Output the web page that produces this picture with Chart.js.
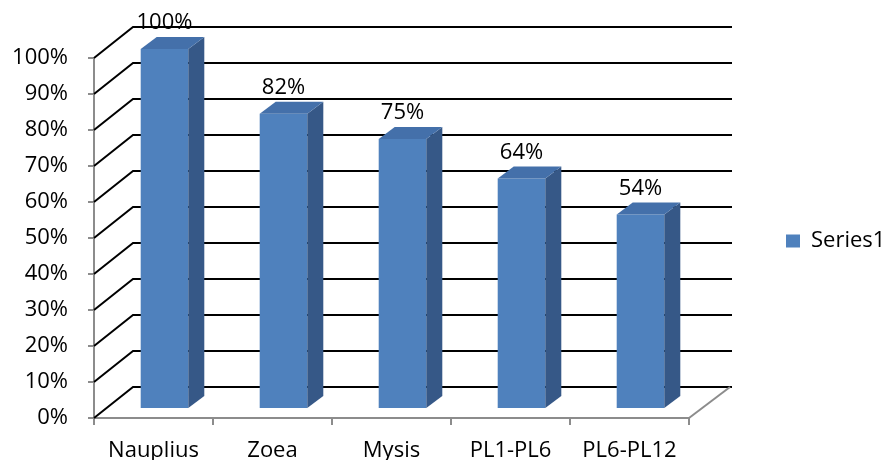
<!DOCTYPE html>
<html>
<head>
<meta charset="utf-8">
<script src="https://cdn.jsdelivr.net/npm/chart.js@4.4.1/dist/chart.umd.min.js"></script>
<style>
  html, body { margin: 0; padding: 0; background: #fff; }
  #wrap { width: 889px; height: 460px; }
</style>
</head>
<body>
<div id="wrap"><canvas id="graph"></canvas></div>
<script>
// data
const stages = ['Nauplius', 'Zoea', 'Mysis', 'PL1-PL6', 'PL6-PL12'];
const survival = [100, 82, 75, 64, 54];
const seriesName = 'Series1';

// fake 3D geometry (pixels)
const WALL_X = 39, WALL_Y = 31;   // back wall offset
const BAR_X = 11, BAR_Y = 9;      // bars sit a bit back on the floor
const SIDE_X = 16, SIDE_Y = 12;   // bar depth

const FRONT = '#4F81BD', SIDE = '#365887', TOP = '#4470AA';
const AXIS = '#8c8c8c';

Chart.defaults.font.family = '"Open Sans", sans-serif';
Chart.defaults.color = '#000';

const box3d = {
  id: 'box3d',
  beforeDatasetsDraw(chart) {
    const { ctx, chartArea: a, scales: { y } } = chart;
    ctx.save();
    // gridlines on the back wall + diagonals to the front axis
    ctx.strokeStyle = '#000';
    ctx.lineWidth = 2;
    y.ticks.forEach(t => {
      const py = y.getPixelForValue(t.value);
      ctx.beginPath();
      ctx.moveTo(a.left, py);
      ctx.lineTo(a.left + WALL_X, py - WALL_Y);
      ctx.lineTo(a.right + WALL_X + 4, py - WALL_Y);
      ctx.stroke();
    });
    // right edge of the floor
    ctx.strokeStyle = AXIS;
    ctx.beginPath();
    ctx.moveTo(a.right, a.bottom);
    ctx.lineTo(a.right + WALL_X + 2, a.bottom - WALL_Y);
    ctx.stroke();
    ctx.restore();
    // the front faces are drawn by Chart.js, shifted back
    ctx.save();
    ctx.translate(BAR_X, -BAR_Y);
  },
  afterDatasetsDraw(chart) {
    const { ctx } = chart;
    ctx.restore();
    const meta = chart.getDatasetMeta(0);
    ctx.save();
    meta.data.forEach((bar, i) => {
      const l = bar.x - bar.width / 2 + BAR_X;
      const r = bar.x + bar.width / 2 + BAR_X;
      const t = bar.y - BAR_Y;
      const b = bar.base - BAR_Y;
      // side
      ctx.fillStyle = SIDE;
      ctx.beginPath();
      ctx.moveTo(r, t);
      ctx.lineTo(r + SIDE_X, t - SIDE_Y);
      ctx.lineTo(r + SIDE_X, b - SIDE_Y);
      ctx.lineTo(r, b);
      ctx.closePath();
      ctx.fill();
      // top
      ctx.fillStyle = TOP;
      ctx.beginPath();
      ctx.moveTo(l, t);
      ctx.lineTo(l + SIDE_X, t - SIDE_Y);
      ctx.lineTo(r + SIDE_X, t - SIDE_Y);
      ctx.lineTo(r, t);
      ctx.closePath();
      ctx.fill();
      // value label
      ctx.fillStyle = '#000';
      ctx.font = '22px "Open Sans", sans-serif';
      ctx.textAlign = 'center';
      ctx.textBaseline = 'middle';
      ctx.fillText(survival[i] + '%', bar.x + BAR_X, t - 26);
    });
    ctx.restore();
  }
};

new Chart(document.getElementById('graph'), {
  type: 'bar',
  data: {
    labels: stages,
    datasets: [{
      label: seriesName,
      data: survival,
      backgroundColor: FRONT,
      borderWidth: 0,
      barPercentage: 0.40,
      categoryPercentage: 1,
      clip: false
    }]
  },
  options: {
    responsive: true,
    maintainAspectRatio: false,
    animation: false,
    layout: { padding: { left: 11, top: 22, right: 0, bottom: 0 } },
    plugins: {
      legend: {
        position: 'right',
        maxWidth: 113,
        labels: { boxWidth: 14, boxHeight: 13, padding: 10, font: { size: 22 } }
      },
      tooltip: { enabled: false }
    },
    scales: {
      x: {
        grid: { drawOnChartArea: false, tickLength: 7, color: AXIS, lineWidth: 2 },
        border: { color: AXIS, width: 2 },
        ticks: { font: { size: 22, lineHeight: 1 }, padding: 15, maxRotation: 0 },
        afterFit(s) { s.height = 42; }
      },
      xTop: {
        axis: 'x', type: 'category', position: 'top',
        grid: { display: false }, ticks: { display: false }, border: { display: false },
        afterFit(s) { s.height = 36; }
      },
      y: {
        min: 0, max: 100,
        grid: { drawOnChartArea: false, tickLength: 6, color: AXIS, lineWidth: 2 },
        border: { color: AXIS, width: 2 },
        ticks: { stepSize: 10, padding: 20, font: { size: 22 }, callback: v => v + '%' },
        afterFit(s) { s.width = 83; }
      },
      yRight: {
        axis: 'y', type: 'linear', position: 'right',
        grid: { display: false }, ticks: { display: false }, border: { display: false },
        afterFit(s) { s.width = 87; }
      }
    }
  },
  plugins: [box3d]
});
</script>
</body>
</html>
